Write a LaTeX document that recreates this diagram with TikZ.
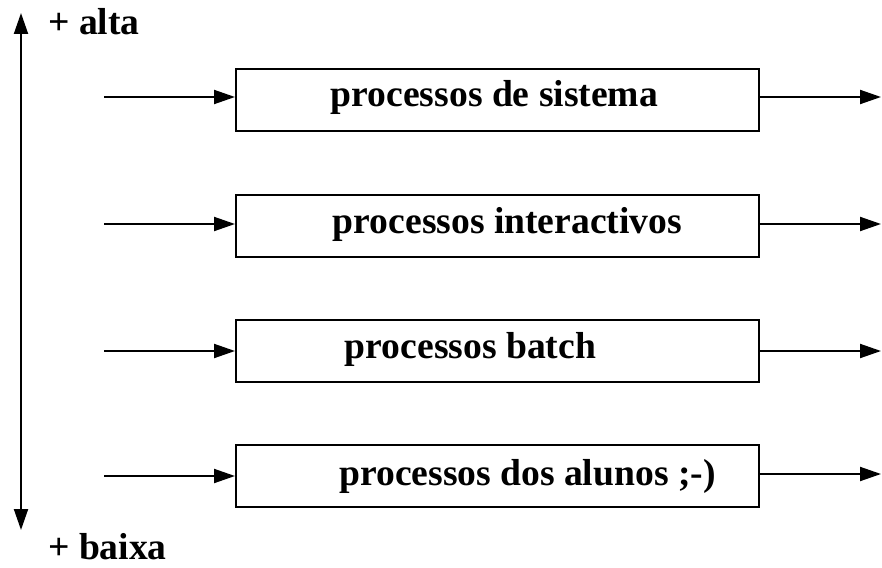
\documentclass[tikz,border=0pt]{standalone}
\usepackage{fontspec}
\setmainfont{Liberation Serif}
\usetikzlibrary{arrows.meta}

\tikzset{
  fila/.style={draw, line width=2pt, minimum width=523pt, minimum height=62pt, inner sep=0pt},
  seta/.style={line width=2pt, -{Triangle[length=21pt,width=14pt]}},
  texto/.style={font=\bfseries\fontsize{37.6}{40}\selectfont, inner sep=0pt},
}

\begin{document}
\begin{tikzpicture}[x=1pt,y=-1pt]
		%%%%% INICIO %%%%%
		\useasboundingbox (0,0) rectangle (882,567);
		
		% eixo de prioridade
		\coordinate (topo) at (21,13);
		\coordinate (fundo) at (21,530);
		\draw[seta, {Triangle[length=21pt,width=14pt]}-{Triangle[length=21pt,width=14pt]}] (topo) -- (fundo);
		\node[texto, anchor=base west] (alta) at (48,35) {+ alta};
		\node[texto, anchor=base west] (baixa) at (48,559) {+ baixa};
		
		% filas
		\node[fila, label={[texto, xshift=-3pt, yshift=3pt]center:processos de sistema}] (sistema) at (497.5,100) {};
		\node[fila, label={[texto, xshift=10pt, yshift=2pt]center:processos interactivos}] (interactivos) at (497.5,226) {};
		\node[fila, label={[texto, xshift=-27pt, yshift=2pt]center:processos batch}] (batch) at (497.5,351) {};
		\node[fila, label={[texto, xshift=30pt]center:processos dos alunos ;-)}] (alunos) at (497.5,476) {};
		
		% entradas e saidas
		\coordinate (in1) at (104,97);
		\coordinate (in2) at (104,224);
		\coordinate (in3) at (104,351);
		\coordinate (in4) at (104,476);
		\coordinate (out1) at (881,97);
		\coordinate (out2) at (881,224);
		\coordinate (out3) at (881,351);
		\coordinate (out4) at (881,474);
		
		\draw[seta] (in1) -- (in1 -| sistema.west);
		\draw[seta] (in2) -- (in2 -| interactivos.west);
		\draw[seta] (in3) -- (in3 -| batch.west);
		\draw[seta] (in4) -- (in4 -| alunos.west);
		\draw[seta] (out1 -| sistema.east) -- (out1);
		\draw[seta] (out2 -| interactivos.east) -- (out2);
		\draw[seta] (out3 -| batch.east) -- (out3);
		\draw[seta] (out4 -| alunos.east) -- (out4);
		
		%%%%% FIM %%%%%
	\end{tikzpicture}
\end{document}
